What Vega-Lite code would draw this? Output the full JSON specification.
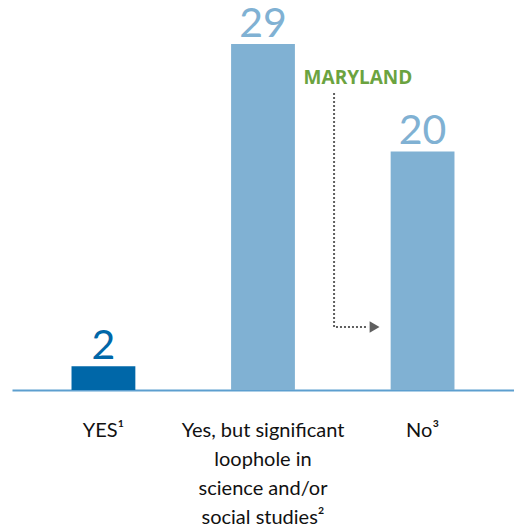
{
  "$schema": "https://vega.github.io/schema/vega-lite/v6.json",
  "width": 502,
  "height": 380,
  "autosize": "none",
  "padding": {"left": 12, "top": 10, "right": 0, "bottom": 137},
  "config": {"view": {"stroke": null}},
  "datasets": {
    "bars": [
      {"cat": "YES¹", "value": 2, "group": "yes"},
      {"cat": "Yes, but significant|loophole in|science and/or|social studies²", "value": 29, "group": "other"},
      {"cat": "No³", "value": 20, "group": "other"}
    ],
    "path": [
      {"step": 1, "px": 2.436, "py": 24.9},
      {"step": 2, "px": 2.436, "py": 5.28},
      {"step": 3, "px": 2.649, "py": 5.28}
    ],
    "arrow": [{"px": 2.69, "py": 5.28}],
    "note": [{"px": 2.586, "py": 25.66, "text": "MARYLAND"}]
  },
  "layer": [
    {
      "data": {"name": "bars"},
      "layer": [
        {
          "mark": {"type": "bar"},
          "encoding": {
            "x": {
              "field": "cat", "type": "nominal", "sort": null,
              "scale": {"paddingInner": 0.6, "paddingOuter": 0.373},
              "axis": {
                "title": null, "labelAngle": 0, "ticks": false,
                "labelExpr": "split(datum.label, '|')",
                "labelFont": "Lato", "labelFontSize": 20, "labelColor": "#111111",
                "labelLineHeight": 29, "labelBaseline": "alphabetic", "labelPadding": 46,
                "labelLimit": 300,
                "domainColor": "#5d9fcf", "domainWidth": 2
              }
            },
            "y": {"field": "value", "type": "quantitative", "scale": {"domain": [0, 31.85], "nice": false}, "axis": null},
            "color": {"field": "group", "type": "nominal", "scale": {"domain": ["yes", "other"], "range": ["#0067a8", "#80b1d3"]}, "legend": null}
          }
        },
        {
          "mark": {"type": "text", "font": "Lato", "fontWeight": "normal", "fontSize": 41, "baseline": "alphabetic", "dy": -7},
          "encoding": {
            "x": {"field": "cat", "type": "nominal", "sort": null},
            "y": {"field": "value", "type": "quantitative"},
            "text": {"field": "value", "type": "quantitative"},
            "color": {"field": "group", "type": "nominal", "legend": null}
          }
        }
      ]
    },
    {
      "layer": [
        {
          "data": {"name": "path"},
          "mark": {"type": "line", "strokeDash": [2, 2], "strokeWidth": 2, "color": "#5f5f5f"},
          "encoding": {
            "x": {"field": "px", "type": "quantitative", "scale": {"domain": [0.417, 3.564], "nice": false, "zero": false}, "axis": null},
            "y": {"field": "py", "type": "quantitative", "scale": {"domain": [0, 31.85], "nice": false}, "axis": null},
            "order": {"field": "step"}
          }
        },
        {
          "data": {"name": "arrow"},
          "mark": {"type": "point", "shape": "triangle-right", "filled": true, "size": 130, "color": "#5f5f5f", "opacity": 1},
          "encoding": {
            "x": {"field": "px", "type": "quantitative"},
            "y": {"field": "py", "type": "quantitative"}
          }
        },
        {
          "data": {"name": "note"},
          "mark": {"type": "text", "font": "Open Sans", "fontWeight": "bold", "fontSize": 19, "color": "#6ba33f", "baseline": "alphabetic"},
          "encoding": {
            "x": {"field": "px", "type": "quantitative"},
            "y": {"field": "py", "type": "quantitative"},
            "text": {"field": "text"}
          }
        }
      ]
    }
  ],
  "resolve": {"scale": {"x": "independent"}}
}
